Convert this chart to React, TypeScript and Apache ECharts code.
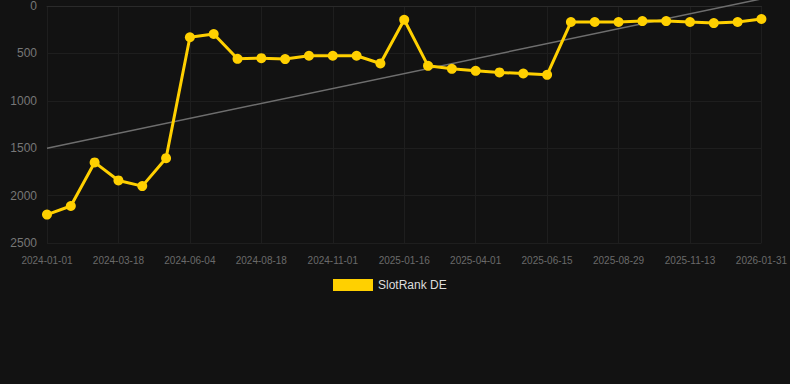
import React, { useEffect, useRef } from "react";
import * as echarts from "echarts";

const dates = [
  "2024-01-01", "2024-01-26", "2024-02-21", "2024-03-18", "2024-04-12", "2024-05-09",
  "2024-06-04", "2024-06-29", "2024-07-24", "2024-08-18", "2024-09-12", "2024-10-07",
  "2024-11-01", "2024-11-26", "2024-12-21", "2025-01-16", "2025-02-10", "2025-03-07",
  "2025-04-01", "2025-04-26", "2025-05-21", "2025-06-15", "2025-07-10", "2025-08-04",
  "2025-08-29", "2025-09-23", "2025-10-18", "2025-11-13", "2025-12-08", "2026-01-05",
  "2026-01-31",
];

const rankDE = [
  2200, 2110, 1650, 1840, 1900, 1605, 330, 295, 557, 550, 560, 525,
  525, 525, 606, 145, 631, 663, 684, 701, 712, 726, 169, 169,
  169, 159, 159, 169, 180, 169, 137,
];

const trendStart = 1500;
const trendEnd = -75;
const trend = dates.map((_, i) =>
  i === 0 ? trendStart : i === dates.length - 1 ? trendEnd : null
);

const yTicks = { min: 0, max: 2500, interval: 500 };

export default function App() {
  const ref = useRef<HTMLDivElement>(null);
  useEffect(() => {
    if (!ref.current) return;
    const chart = echarts.init(ref.current, undefined, { renderer: "svg" });
    chart.setOption({
      animation: false,
      backgroundColor: "#121212",
      grid: { left: 47, right: 28, top: 6, bottom: 141, containLabel: false },
      legend: {
        data: [{ name: "SlotRank DE", icon: "rect" }],
        top: 274,
        left: 328,
        itemWidth: 40,
        itemHeight: 12,
        itemGap: 10,
        textStyle: { color: "#dddddd", fontSize: 12, fontFamily: "Arial, Liberation Sans, sans-serif" },
      },
      xAxis: {
        type: "category",
        data: dates,
        boundaryGap: false,
        axisLine: { show: true, lineStyle: { color: "#2a2a2a" } },
        axisTick: { show: false },
        axisLabel: {
          interval: 2,
          color: "#6a6a6a",
          fontSize: 10,
          margin: 12,
          fontFamily: "Arial, Liberation Sans, sans-serif",
        },
        splitLine: { show: true, interval: 2, lineStyle: { color: "#1e1e1e" } },
      },
      yAxis: {
        type: "value",
        inverse: true,
        min: yTicks.min,
        max: yTicks.max,
        interval: yTicks.interval,
        axisLine: { show: false },
        axisTick: { show: false },
        axisLabel: {
          color: "#777777",
          fontSize: 12,
          margin: 10,
          formatter: (v: number) => String(v),
          fontFamily: "Arial, Liberation Sans, sans-serif",
        },
        splitLine: { show: true, lineStyle: { color: "#1e1e1e" } },
      },
      series: [
        {
          name: "Trend",
          type: "line",
          data: trend,
          connectNulls: true,
          showSymbol: false,
          symbol: "none",
          clip: false,
          lineStyle: { color: "#6e6e6e", width: 1.5 },
          z: 1,
          silent: true,
        },
        {
          name: "SlotRank DE",
          type: "line",
          data: rankDE,
          symbol: "circle",
          symbolSize: 10,
          itemStyle: { color: "#ffd000" },
          lineStyle: { color: "#ffd000", width: 3 },
          z: 3,
        },
      ],
    });
    return () => chart.dispose();
  }, []);
  return (
    <div
      ref={ref}
      style={{ position: "fixed", left: 0, top: 0, width: 790, height: 384 }}
    />
  );
}
